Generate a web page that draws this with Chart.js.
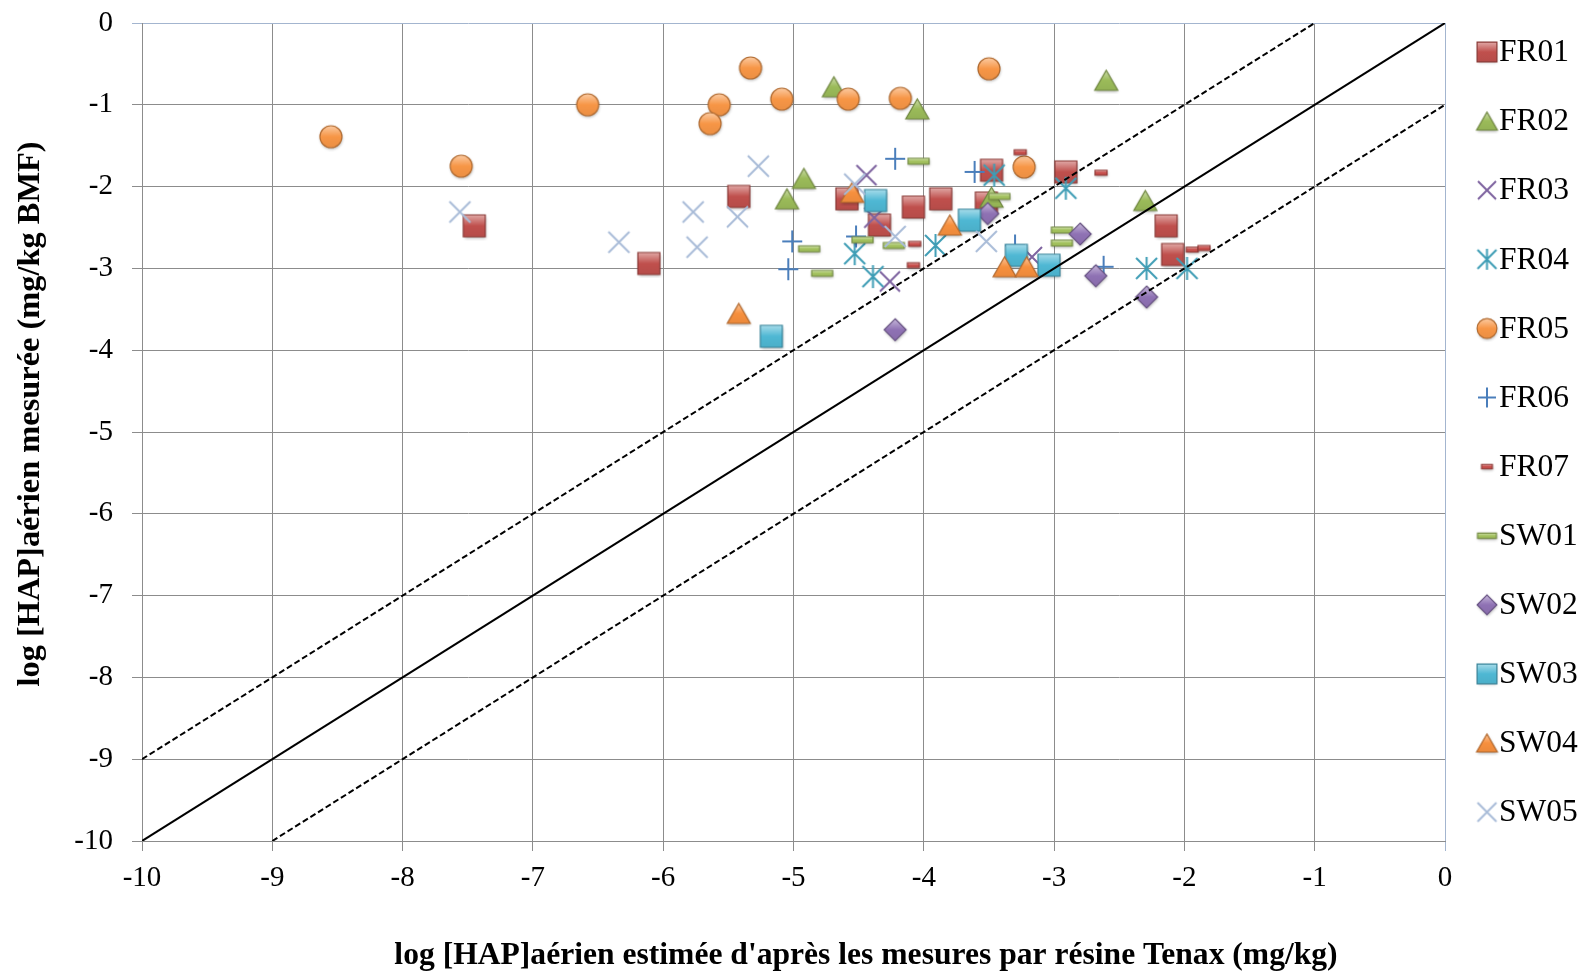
<!DOCTYPE html>
<html>
<head>
<meta charset="utf-8">
<script src="https://cdn.jsdelivr.net/npm/chart.js@4.4.1/dist/chart.umd.min.js"></script>
<style>
  html, body { margin: 0; padding: 0; background: #fff; }
  canvas { display: block; }
</style>
</head>
<body>
<canvas id="chart" width="1585" height="973"></canvas>
<script>
// --- data ---
const seriesNames = ["FR01", "FR02", "FR03", "FR04", "FR05", "FR06", "FR07", "SW01", "SW02", "SW03", "SW04", "SW05"];

const fr01X = [-7.45, -6.11, -5.42, -4.59, -4.34, -4.08, -3.87, -3.48, -3.52, -2.91, -2.14, -2.09];
const fr01Y = [-2.48, -2.94, -2.12, -2.15, -2.47, -2.25, -2.15, -1.80, -2.20, -1.82, -2.48, -2.83];
const fr02X = [-4.69, -4.05, -2.60, -4.92, -5.05, -3.48, -2.30];
const fr02Y = [-0.78, -1.05, -0.70, -1.90, -2.15, -2.13, -2.17];
const fr03X = [-4.44, -4.38, -4.26, -3.17];
const fr03Y = [-1.86, -2.38, -3.16, -2.86];
const fr04X = [-4.53, -4.39, -3.91, -3.46, -2.91, -2.29, -1.98];
const fr04Y = [-2.82, -3.10, -2.72, -1.86, -2.02, -3.00, -3.00];
const fr05X = [-8.55, -7.55, -6.58, -5.33, -5.57, -5.64, -5.09, -4.58, -4.18, -3.50, -3.23];
const fr05Y = [-1.39, -1.75, -1.00, -0.55, -1.00, -1.23, -0.93, -0.93, -0.92, -0.56, -1.76];
const fr06X = [-4.22, -5.01, -5.04, -4.52, -3.61, -3.30, -2.62];
const fr06Y = [-1.66, -2.67, -3.01, -2.61, -1.82, -2.72, -2.98];
const fr07X = [-3.26, -2.64, -4.07, -4.08, -1.94, -1.85];
const fr07Y = [-1.58, -1.83, -2.70, -2.96, -2.77, -2.75];
const sw01X = [-4.04, -4.88, -4.78, -4.47, -4.23, -3.42, -2.94, -2.94];
const sw01Y = [-1.69, -2.76, -3.06, -2.65, -2.72, -2.12, -2.53, -2.69];
const sw02X = [-4.22, -3.51, -2.80, -2.68, -2.29];
const sw02Y = [-3.75, -2.33, -2.58, -3.09, -3.35];
const sw03X = [-4.37, -5.17, -3.65, -3.29, -3.04];
const sw03Y = [-2.17, -3.83, -2.41, -2.84, -2.96];
const sw04X = [-4.55, -5.42, -3.80, -3.38, -3.21];
const sw04Y = [-2.07, -3.55, -2.47, -2.98, -2.98];
const sw05X = [-7.56, -6.34, -5.27, -5.77, -5.43, -5.74, -4.53, -4.22, -3.52];
const sw05Y = [-2.31, -2.68, -1.75, -2.31, -2.37, -2.74, -1.97, -2.61, -2.67];

// 1:1 line and the +/-1 log bands
const diagX = [-10, 0];
const diagY = [-10, 0];
const upperX = [-10, -1];
const upperY = [-9, 0];
const lowerX = [-9, 0];
const lowerY = [-10, -1];

const tickValues = [-10, -9, -8, -7, -6, -5, -4, -3, -2, -1, 0];

const xTitle = "log [HAP]aérien estimée d'après les mesures par résine Tenax (mg/kg)";
const yTitle = "log [HAP]aérien mesurée (mg/kg BMF)";

// --- styling ---
const seriesX = [fr01X, fr02X, fr03X, fr04X, fr05X, fr06X, fr07X, sw01X, sw02X, sw03X, sw04X, sw05X];
const seriesY = [fr01Y, fr02Y, fr03Y, fr04Y, fr05Y, fr06Y, fr07Y, sw01Y, sw02Y, sw03Y, sw04Y, sw05Y];
const kinds  = ["rect", "triangle", "cross", "star", "circle", "plus", "dash", "dash", "diamond", "rect", "triangle", "cross"];
const colors = ["#C0504D", "#9BBB59", "#7E63A0", "#3E9DB5", "#F79646", "#4A7EBB", "#C8504D", "#A3C25E", "#8F72B4", "#4FB8D4", "#F7903E", "#A9BCD8"];
const sizes  = [[22, 22], [23, 20], [20, 20], [21, 21], [22, 22], [20, 20], [12, 5], [21, 6], [22, 22], [22, 22], [23, 20], [21, 21]];

const serif = "'Liberation Serif', 'Times New Roman', serif";

function mix(hex, target, t) {
  const n = parseInt(hex.slice(1), 16);
  const m = v => Math.round(v + (target - v) * t);
  return "rgb(" + m((n >> 16) & 255) + "," + m((n >> 8) & 255) + "," + m(n & 255) + ")";
}

// Excel-like shaded markers, handed to Chart.js as pointStyle images
function makeMarker(kind, color, w, h) {
  const pad = 4;
  const c = document.createElement("canvas");
  c.width = Math.ceil(w + pad * 2);
  c.height = Math.ceil(h + pad * 2);
  const g = c.getContext("2d");
  g.translate(c.width / 2, c.height / 2);
  const hw = w / 2, hh = h / 2;

  if (kind === "cross" || kind === "plus" || kind === "star") {
    g.strokeStyle = color;
    g.lineWidth = 2;
    g.beginPath();
    if (kind !== "plus") {
      g.moveTo(-hw, -hh); g.lineTo(hw, hh);
      g.moveTo(hw, -hh); g.lineTo(-hw, hh);
    }
    if (kind !== "cross") { g.moveTo(0, -hh - 1); g.lineTo(0, hh + 1); }
    if (kind === "plus") { g.moveTo(-hw, 0); g.lineTo(hw, 0); }
    g.stroke();
    return c;
  }

  const path = () => {
    g.beginPath();
    if (kind === "rect" || kind === "dash") g.rect(-hw, -hh, w, h);
    else if (kind === "circle") g.arc(0, 0, hw, 0, Math.PI * 2);
    else if (kind === "triangle") { g.moveTo(0, -hh); g.lineTo(hw, hh); g.lineTo(-hw, hh); g.closePath(); }
    else if (kind === "diamond") { g.moveTo(0, -hh); g.lineTo(hw, 0); g.lineTo(0, hh); g.lineTo(-hw, 0); g.closePath(); }
  };
  const grad = g.createLinearGradient(0, -hh, 0, hh);
  grad.addColorStop(0, mix(color, 255, 0.5));
  grad.addColorStop(0.5, color);
  grad.addColorStop(1, mix(color, 0, 0.05));
  g.save();
  g.shadowColor = "rgba(0,0,0,0.3)";
  g.shadowBlur = 3;
  g.shadowOffsetX = 0.5;
  g.shadowOffsetY = 1.5;
  path();
  g.fillStyle = grad;
  g.fill();
  g.restore();
  path();
  g.strokeStyle = mix(color, 0, 0.28);
  g.lineWidth = 1.2;
  g.stroke();
  return c;
}

const plotMarkers = kinds.map((k, i) => makeMarker(k, colors[i], sizes[i][0], sizes[i][1]));
const legendMarkers = kinds.map((k, i) => makeMarker(k, colors[i], sizes[i][0] * 0.9, sizes[i][1] * 0.9));

const toPoints = (xs, ys) => xs.map((x, i) => ({x: x, y: ys[i]}));

const pointSets = seriesNames.map((name, i) => ({
  label: name,
  data: toPoints(seriesX[i], seriesY[i]),
  pointStyle: plotMarkers[i],
  pointRadius: 11,
  pointHoverRadius: 11,
  showLine: false,
  order: 20 - i, // later series sit on top, like Excel
}));

const refLine = (xs, ys, dash) => ({
  label: "",
  data: toPoints(xs, ys),
  showLine: true,
  pointRadius: 0,
  borderColor: "#000",
  borderWidth: 2,
  borderDash: dash ? [6, 3] : [],
  order: 0,
});

// axis titles and the side legend
const overlay = {
  id: "overlay",
  afterDraw(chart) {
    const {ctx} = chart;
    ctx.save();
    ctx.fillStyle = "#000";
    ctx.textBaseline = "middle";
    ctx.textAlign = "center";

    ctx.font = "bold 31.6px " + serif;
    ctx.fillText(xTitle, 866, 956);
    ctx.font = "bold 32.4px " + serif;
    ctx.save();
    ctx.translate(31, 414);
    ctx.rotate(-Math.PI / 2);
    ctx.fillText(yTitle, 0, 0);
    ctx.restore();

    ctx.font = "31.5px " + serif;
    ctx.textAlign = "left";
    seriesNames.forEach((name, i) => {
      const cy = 52 + i * 69.1;
      const m = legendMarkers[i];
      ctx.drawImage(m, 1487 - m.width / 2, cy - m.height / 2);
      ctx.fillText(name, 1499, cy + 1);
    });
    ctx.restore();
  }
};

const gridColor = c => (c.tick && c.tick.value === 0) ? "#a3b5cf" : "#8c8c8c";

new Chart(document.getElementById("chart"), {
  type: "scatter",
  data: {
    datasets: [
      refLine(diagX, diagY, false),
      refLine(upperX, upperY, true),
      refLine(lowerX, lowerY, true),
      ...pointSets,
    ],
  },
  plugins: [overlay],
  options: {
    responsive: false,
    animation: false,
    events: [],
    layout: {
      padding: {top: 23, right: 140, left: 0, bottom: 0},
    },
    plugins: {
      legend: {display: false},
      tooltip: {enabled: false},
    },
    scales: {
      x: {
        type: "linear",
        min: -10,
        max: 0,
        afterBuildTicks: s => { s.ticks = tickValues.map(v => ({value: v})); },
        afterFit: s => { s.height = 132; },
        grid: {color: gridColor, tickLength: 10, lineWidth: 1},
        border: {color: "#8c8c8c"},
        ticks: {
          color: "#000",
          padding: 10,
          maxRotation: 0,
          font: {family: serif, size: 29},
        },
      },
      y: {
        type: "linear",
        min: -10,
        max: 0,
        afterBuildTicks: s => { s.ticks = tickValues.map(v => ({value: v})); },
        afterFit: s => { s.width = 142; s.paddingTop = 0; s.paddingBottom = 0; },
        grid: {color: gridColor, tickLength: 10, lineWidth: 1},
        border: {color: "#8c8c8c"},
        ticks: {
          color: "#000",
          padding: 19,
          font: {family: serif, size: 29},
        },
      },
    },
  },
});
</script>
</body>
</html>
